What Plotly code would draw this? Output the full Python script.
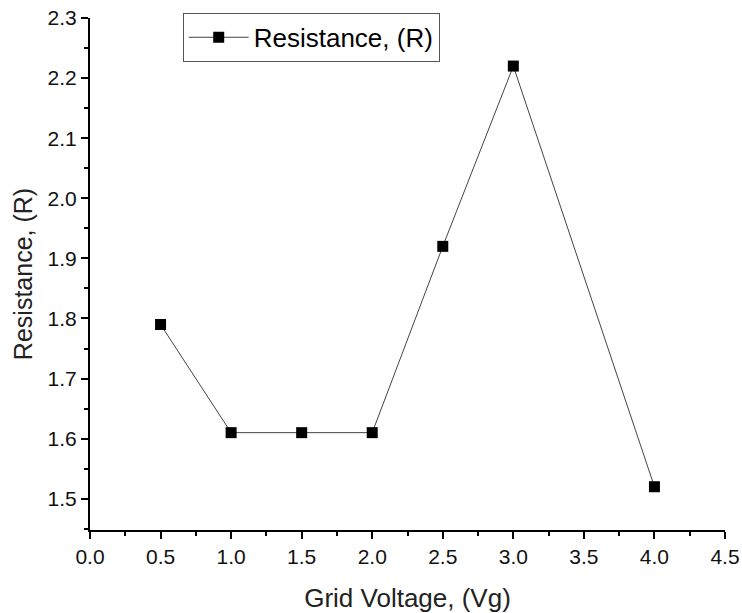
import plotly.graph_objects as go

grid_voltage = [0.5, 1.0, 1.5, 2.0, 2.5, 3.0, 4.0]
resistance = [1.79, 1.61, 1.61, 1.61, 1.92, 2.22, 1.52]
x_ticks = [0.0, 0.5, 1.0, 1.5, 2.0, 2.5, 3.0, 3.5, 4.0, 4.5]
y_ticks = [1.5, 1.6, 1.7, 1.8, 1.9, 2.0, 2.1, 2.2, 2.3]

FONT = "Arial, Liberation Sans"

fig = go.Figure()
fig.add_trace(go.Scatter(
    x=grid_voltage, y=resistance, mode="lines+markers",
    name="Resistance, (R)",
    line=dict(color="#444444", width=1),
    marker=dict(symbol="square", size=11, color="black"),
))

axis_common = dict(
    showgrid=False, zeroline=False, showline=True, linecolor="black", linewidth=2,
    ticks="outside", ticklen=7, tickwidth=2, tickcolor="black",
    tickfont=dict(family=FONT, size=21, color="#111"),
    minor=dict(ticks="outside", ticklen=4, tickwidth=2, tickcolor="black"),
)
fig.update_xaxes(range=[0, 4.5], tickvals=x_ticks, ticktext=[f"{v:.1f}" for v in x_ticks],
                 minor_dtick=0.25, minor_tick0=0, automargin=False,
                 title=dict(text="Grid Voltage, (Vg)", font=dict(family=FONT, size=26, color="#222"), standoff=22),
                 **axis_common)
fig.update_yaxes(range=[1.448, 2.3], tickvals=y_ticks, ticktext=[f"{v:.1f}" for v in y_ticks],
                 minor_dtick=0.05, minor_tick0=1.45, automargin="left",
                 title=dict(text="Resistance, (R)", font=dict(family=FONT, size=25, color="#222"), standoff=8),
                 **axis_common)

fig.update_layout(
    width=742, height=613, plot_bgcolor="white", paper_bgcolor="white",
    margin=dict(l=90, r=17, t=18, b=83),
    showlegend=True,
    legend=dict(x=0.146, y=1.01, xanchor="left", yanchor="top",
                bordercolor="#555", borderwidth=1, bgcolor="white",
                font=dict(family=FONT, size=26, color="black"),
                itemwidth=60, tracegroupgap=0),
)
fig.write_html("out.html")
